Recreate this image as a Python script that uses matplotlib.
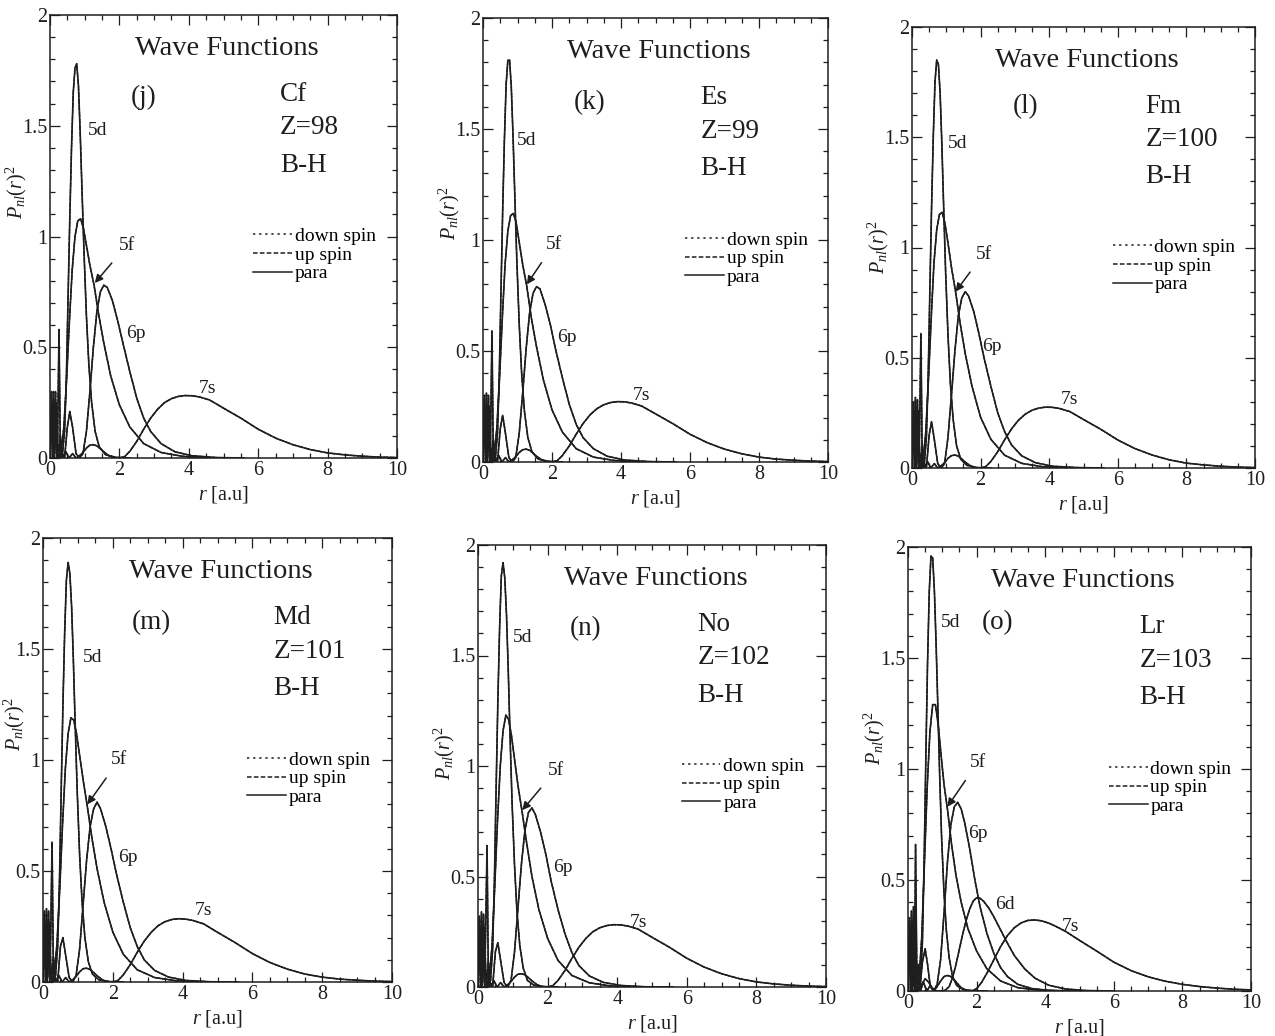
import matplotlib
matplotlib.use("Agg")
import matplotlib.pyplot as plt
from matplotlib.lines import Line2D
from matplotlib.ticker import MultipleLocator, FuncFormatter

plt.rcParams["font.family"] = ["Liberation Serif", "DejaVu Serif"]
plt.rcParams["mathtext.fontset"] = "custom"
plt.rcParams["mathtext.rm"] = "Liberation Serif"
plt.rcParams["mathtext.it"] = "Liberation Serif:italic"

INK = "#1e1e1e"

# panel captions
PANELS = ["(j)", "(k)", "(l)", "(m)", "(n)", "(o)"]
ELEMENTS = ["Cf", "Es", "Fm", "Md", "No", "Lr"]
Z_NUMBERS = [98, 99, 100, 101, 102, 103]

# radial grids (a.u.)
R_5D = [0.30, 0.36, 0.42, 0.47, 0.52, 0.57, 0.62, 0.67, 0.72, 0.77, 0.82,
        0.87, 0.92, 0.98, 1.05, 1.12, 1.20, 1.30, 1.42, 1.6, 1.9, 2.3]
R_5F = [0.25, 0.32, 0.40, 0.48, 0.56, 0.64, 0.72, 0.80, 0.88, 0.96, 1.05,
        1.15, 1.27, 1.40, 1.55, 1.75, 2.0, 2.3, 2.7, 3.2, 3.8, 4.5]
R_6P = [0.0, 0.04, 0.07, 0.1, 0.13, 0.16, 0.19, 0.22, 0.26, 0.30, 0.35,
        0.42, 0.50, 0.57, 0.65, 0.75, 0.85, 0.95, 1.05, 1.15, 1.25, 1.35,
        1.45, 1.55, 1.65, 1.8, 1.95, 2.1, 2.3, 2.5, 2.7, 2.9, 3.2, 3.6,
        4.1, 4.8, 5.6]
R_7S = [0.0, 0.06, 0.12, 0.18, 0.24, 0.30, 0.36, 0.45, 0.55, 0.65, 0.75,
        0.85, 0.95, 1.05, 1.15, 1.25, 1.35, 1.45, 1.55, 1.7, 1.85, 2.0,
        2.15, 2.3, 2.5, 2.7, 2.9, 3.1, 3.3, 3.5, 3.7, 3.9, 4.1, 4.3, 4.6,
        5.0, 5.5, 6.0, 6.5, 7.0, 7.5, 8.0, 8.5, 9.0, 9.5, 10.0]
R_6D = [0.3, 0.4, 0.5, 0.6, 0.7, 0.8, 0.9, 1.0, 1.1, 1.2, 1.3, 1.4, 1.5,
        1.6, 1.7, 1.8, 1.9, 2.0, 2.1, 2.2, 2.35, 2.5, 2.7, 2.9, 3.1, 3.4,
        3.7, 4.1, 4.6, 5.2, 6.0]

# P_nl(r)^2, one row per panel (j..o)
P_5D = [
    [0.0, 0.02, 0.12, 0.35, 0.72, 1.08, 1.40, 1.65, 1.76, 1.78, 1.68, 1.47,
     1.22, 0.93, 0.64, 0.42, 0.25, 0.12, 0.05, 0.015, 0.003, 0.0],
    [0.0, 0.02, 0.13, 0.38, 0.76, 1.13, 1.45, 1.70, 1.81, 1.81, 1.69, 1.47,
     1.21, 0.91, 0.62, 0.40, 0.23, 0.11, 0.045, 0.013, 0.003, 0.0],
    [0.0, 0.02, 0.14, 0.40, 0.80, 1.18, 1.50, 1.75, 1.85, 1.83, 1.70, 1.47,
     1.20, 0.89, 0.60, 0.38, 0.22, 0.10, 0.04, 0.012, 0.002, 0.0],
    [0.0, 0.03, 0.16, 0.44, 0.85, 1.24, 1.57, 1.81, 1.89, 1.84, 1.69, 1.45,
     1.17, 0.86, 0.57, 0.36, 0.20, 0.09, 0.035, 0.01, 0.002, 0.0],
    [0.0, 0.03, 0.17, 0.47, 0.89, 1.29, 1.62, 1.86, 1.92, 1.85, 1.68, 1.43,
     1.14, 0.83, 0.55, 0.34, 0.19, 0.085, 0.03, 0.009, 0.002, 0.0],
    [0.0, 0.04, 0.22, 0.58, 1.05, 1.48, 1.80, 1.96, 1.95, 1.80, 1.56, 1.28,
     0.99, 0.69, 0.44, 0.27, 0.15, 0.065, 0.025, 0.007, 0.001, 0.0],
]
P_5F = [
    [0.0, 0.03, 0.14, 0.36, 0.62, 0.85, 1.0, 1.07, 1.08, 1.04, 0.96, 0.87,
     0.78, 0.65, 0.52, 0.37, 0.24, 0.14, 0.065, 0.025, 0.008, 0.0],
    [0.0, 0.03, 0.15, 0.38, 0.65, 0.89, 1.04, 1.11, 1.12, 1.08, 0.99, 0.89,
     0.79, 0.65, 0.52, 0.37, 0.235, 0.135, 0.06, 0.022, 0.007, 0.0],
    [0.0, 0.03, 0.16, 0.40, 0.68, 0.93, 1.08, 1.15, 1.16, 1.11, 1.02, 0.91,
     0.80, 0.66, 0.52, 0.37, 0.23, 0.13, 0.058, 0.021, 0.006, 0.0],
    [0.0, 0.04, 0.17, 0.42, 0.71, 0.96, 1.12, 1.19, 1.18, 1.12, 1.02, 0.91,
     0.79, 0.65, 0.51, 0.36, 0.225, 0.125, 0.055, 0.02, 0.006, 0.0],
    [0.0, 0.04, 0.18, 0.45, 0.75, 1.00, 1.16, 1.23, 1.21, 1.14, 1.03, 0.91,
     0.79, 0.65, 0.50, 0.35, 0.22, 0.12, 0.052, 0.019, 0.005, 0.0],
    [0.0, 0.05, 0.24, 0.58, 0.92, 1.17, 1.29, 1.29, 1.20, 1.07, 0.93, 0.82,
     0.66, 0.52, 0.40, 0.28, 0.18, 0.10, 0.045, 0.015, 0.004, 0.0],
]
P_6P = [
    [0.0, 0.3, 0.0, 0.3, 0.02, 0.3, 0.0, 0.1, 0.58, 0.0, 0.02, 0.0, 0.14,
     0.21, 0.14, 0.02, 0.0, 0.02, 0.12, 0.3, 0.5, 0.66, 0.75, 0.78, 0.77,
     0.71, 0.62, 0.52, 0.39, 0.27, 0.18, 0.12, 0.065, 0.028, 0.01, 0.002, 0.0],
    [0.0, 0.3, 0.0, 0.31, 0.02, 0.3, 0.0, 0.12, 0.59, 0.0, 0.02, 0.0, 0.15,
     0.21, 0.13, 0.02, 0.0, 0.02, 0.13, 0.31, 0.51, 0.67, 0.76, 0.79, 0.78,
     0.71, 0.62, 0.51, 0.38, 0.26, 0.17, 0.11, 0.06, 0.026, 0.009, 0.002, 0.0],
    [0.0, 0.3, 0.0, 0.32, 0.02, 0.31, 0.0, 0.15, 0.61, 0.0, 0.02, 0.0, 0.15,
     0.21, 0.13, 0.02, 0.0, 0.02, 0.14, 0.33, 0.53, 0.69, 0.77, 0.80, 0.78,
     0.71, 0.61, 0.50, 0.37, 0.25, 0.165, 0.105, 0.055, 0.024, 0.008, 0.002, 0.0],
    [0.0, 0.32, 0.0, 0.33, 0.02, 0.32, 0.0, 0.2, 0.63, 0.0, 0.02, 0.0, 0.16,
     0.2, 0.12, 0.02, 0.0, 0.03, 0.15, 0.35, 0.55, 0.70, 0.78, 0.81, 0.78,
     0.70, 0.60, 0.49, 0.36, 0.245, 0.16, 0.10, 0.052, 0.022, 0.007, 0.001, 0.0],
    [0.0, 0.32, 0.0, 0.34, 0.02, 0.33, 0.0, 0.25, 0.64, 0.0, 0.02, 0.0, 0.16,
     0.2, 0.12, 0.02, 0.0, 0.03, 0.16, 0.36, 0.56, 0.71, 0.79, 0.81, 0.78,
     0.70, 0.60, 0.48, 0.35, 0.24, 0.155, 0.097, 0.05, 0.021, 0.007, 0.001, 0.0],
    [0.0, 0.33, 0.0, 0.36, 0.02, 0.38, 0.0, 0.66, 0.05, 0.0, 0.02, 0.13, 0.19,
     0.12, 0.02, 0.0, 0.03, 0.14, 0.35, 0.58, 0.75, 0.83, 0.85, 0.82, 0.76,
     0.64, 0.50, 0.38, 0.26, 0.17, 0.105, 0.065, 0.03, 0.011, 0.003, 0.0, 0.0],
]
P_7S = [
    [0.0, 0.2, 0.0, 0.25, 0.0, 0.1, 0.0, 0.03, 0.0, 0.02, 0.0, 0.01, 0.025,
     0.045, 0.058, 0.06, 0.055, 0.042, 0.028, 0.01, 0.001, 0.0, 0.006, 0.03,
     0.075, 0.13, 0.18, 0.22, 0.25, 0.268, 0.278, 0.282, 0.281, 0.276, 0.262,
     0.225, 0.18, 0.13, 0.09, 0.06, 0.038, 0.023, 0.014, 0.008, 0.004, 0.002],
    [0.0, 0.2, 0.0, 0.25, 0.0, 0.1, 0.0, 0.03, 0.0, 0.02, 0.0, 0.01, 0.024,
     0.043, 0.055, 0.058, 0.053, 0.04, 0.026, 0.01, 0.001, 0.0, 0.006, 0.029,
     0.072, 0.125, 0.173, 0.212, 0.24, 0.258, 0.268, 0.272, 0.271, 0.266,
     0.252, 0.217, 0.173, 0.125, 0.087, 0.058, 0.037, 0.022, 0.013, 0.008,
     0.004, 0.002],
    [0.0, 0.21, 0.0, 0.26, 0.0, 0.1, 0.0, 0.03, 0.0, 0.02, 0.0, 0.01, 0.024,
     0.044, 0.056, 0.059, 0.054, 0.041, 0.027, 0.01, 0.001, 0.0, 0.006, 0.03,
     0.074, 0.128, 0.177, 0.216, 0.244, 0.262, 0.272, 0.276, 0.275, 0.27,
     0.256, 0.22, 0.176, 0.127, 0.088, 0.059, 0.037, 0.022, 0.014, 0.008,
     0.004, 0.002],
    [0.0, 0.22, 0.0, 0.27, 0.0, 0.11, 0.0, 0.03, 0.0, 0.02, 0.0, 0.01, 0.025,
     0.046, 0.06, 0.062, 0.056, 0.043, 0.028, 0.01, 0.001, 0.0, 0.007, 0.032,
     0.078, 0.134, 0.184, 0.224, 0.254, 0.272, 0.282, 0.285, 0.283, 0.277,
     0.262, 0.224, 0.178, 0.128, 0.088, 0.058, 0.036, 0.022, 0.013, 0.008,
     0.004, 0.002],
    [0.0, 0.22, 0.0, 0.27, 0.0, 0.11, 0.0, 0.03, 0.0, 0.02, 0.0, 0.01, 0.025,
     0.045, 0.058, 0.06, 0.055, 0.042, 0.028, 0.01, 0.001, 0.0, 0.006, 0.03,
     0.075, 0.13, 0.18, 0.22, 0.25, 0.268, 0.278, 0.282, 0.281, 0.276, 0.262,
     0.225, 0.18, 0.13, 0.09, 0.06, 0.038, 0.023, 0.014, 0.008, 0.004, 0.002],
    [0.0, 0.25, 0.0, 0.3, 0.0, 0.12, 0.0, 0.04, 0.0, 0.025, 0.0, 0.02, 0.045,
     0.065, 0.07, 0.065, 0.05, 0.032, 0.015, 0.003, 0.0, 0.01, 0.04, 0.08,
     0.14, 0.2, 0.25, 0.285, 0.307, 0.318, 0.32, 0.316, 0.306, 0.292, 0.268,
     0.228, 0.18, 0.13, 0.092, 0.064, 0.044, 0.03, 0.02, 0.013, 0.008, 0.005],
]
# 6d only shows up for Lr
P_6D_LR = [0.0, 0.03, 0.055, 0.04, 0.015, 0.002, 0.0, 0.0, 0.005, 0.02, 0.06,
           0.12, 0.19, 0.26, 0.32, 0.37, 0.405, 0.42, 0.418, 0.405, 0.375,
           0.335, 0.275, 0.215, 0.16, 0.10, 0.058, 0.026, 0.009, 0.002, 0.0]

# ---- layout (pixel boxes in the scan: left, top, right, bottom) ----
W, H = 1275, 1036
BOXES = [(50, 15, 397, 458), (483, 18, 828, 462), (912, 27, 1255, 468),
         (43, 538, 392, 982), (478, 545, 826, 987), (908, 547, 1251, 991)]

# label anchors in data coords
POS_5D = [(1.1, 1.48), (0.99, 1.45), (1.05, 1.47), (1.15, 1.46), (1.0, 1.58), (0.95, 1.66)]
POS_5F = [(1.98, 0.96), (1.82, 0.98), (1.85, 0.97), (1.95, 1.0), (2.0, 0.98), (1.8, 1.03)]
TIP_5F = [(1.29, 0.79), (1.27, 0.80), (1.27, 0.80), (1.27, 0.80), (1.27, 0.80), (1.15, 0.83)]
POS_6P = [(2.2, 0.56), (2.15, 0.56), (2.05, 0.55), (2.15, 0.56), (2.15, 0.54), (1.76, 0.71)]
POS_7S = [(4.3, 0.315), (4.35, 0.30), (4.35, 0.31), (4.35, 0.32), (4.35, 0.29), (4.49, 0.29)]
POS_TAG = [(2.7, 1.63), (3.1, 1.62), (3.3, 1.64), (3.1, 1.62), (3.1, 1.62), (2.6, 1.66)]
X_ELEM = [6.63, 6.3, 6.8, 6.6, 6.3, 6.75]
YLAB_X = [-0.06, -0.06, -0.06, -0.045, -0.06, -0.06]
YLAB_Y = [0.6, 0.56, 0.5, 0.58, 0.53, 0.57]


def draw_panel(ax, i):
    curves = [(R_5D, P_5D[i]), (R_5F, P_5F[i]), (R_6P, P_6P[i]), (R_7S, P_7S[i])]
    if i == 5:
        curves.append((R_6D, P_6D_LR))
    for r, p in curves:
        ax.plot(r, p, color=INK, lw=1.2, ls="-")
        ax.plot(r, p, color=INK, lw=0.9, ls="--")
        ax.plot(r, p, color=INK, lw=0.9, ls=":")

    ax.set_xlim(0, 10)
    ax.set_ylim(0, 2)
    ax.xaxis.set_major_locator(MultipleLocator(2))
    ax.xaxis.set_minor_locator(MultipleLocator(0.5))
    ax.yaxis.set_major_locator(MultipleLocator(0.5))
    ax.yaxis.set_minor_locator(MultipleLocator(0.1))
    ax.yaxis.set_major_formatter(FuncFormatter(lambda v, _: f"{v:g}"))
    ax.tick_params(which="both", direction="in", top=True, right=True,
                   colors=INK, labelsize=14.5, width=0.9)
    ax.tick_params(which="major", length=7, pad=2)
    ax.tick_params(which="minor", length=3.5)
    for s in ax.spines.values():
        s.set_linewidth(1.1)
        s.set_color(INK)

    ax.set_xlabel(r"$r$ [a.u]", fontsize=14.5, color=INK, labelpad=3)
    ax.set_ylabel(r"$P_{nl}(r)^2$", fontsize=14.5, color=INK)
    ax.yaxis.set_label_coords(YLAB_X[i], YLAB_Y[i])

    txt = dict(color=INK)
    ax.text(5.1, 1.85, "Wave Functions", fontsize=20.5, ha="center", va="center", **txt)
    ax.text(*POS_TAG[i], PANELS[i], fontsize=19.5, ha="center", va="center", **txt)
    ax.text(X_ELEM[i], 1.64, ELEMENTS[i], fontsize=19.5, ha="left", va="center", **txt)
    ax.text(X_ELEM[i], 1.49, f"Z={Z_NUMBERS[i]}", fontsize=19.5, ha="left", va="center", **txt)
    ax.text(X_ELEM[i], 1.32, "B-H", fontsize=19.5, ha="left", va="center", **txt)

    ax.text(*POS_5D[i], "5d", fontsize=14, ha="left", va="center", **txt)
    ax.text(*POS_6P[i], "6p", fontsize=14, ha="left", va="center", **txt)
    ax.text(*POS_7S[i], "7s", fontsize=14, ha="left", va="center", **txt)
    ax.annotate("5f", xy=TIP_5F[i], xytext=POS_5F[i], fontsize=14,
                ha="left", va="center", color=INK,
                arrowprops=dict(arrowstyle="-|>", color=INK, lw=1.1,
                                mutation_scale=12, shrinkA=6, shrinkB=0))
    if i == 5:
        ax.text(2.54, 0.39, "6d", fontsize=14, ha="left", va="center", **txt)

    handles = [Line2D([], [], color=INK, lw=1.1, ls=(0, (1.5, 2.5))),
               Line2D([], [], color=INK, lw=1.1, ls=(0, (3, 1.5))),
               Line2D([], [], color=INK, lw=1.1, ls="-")]
    ax.legend(handles, ["down spin", "up spin", "para"], loc="upper left",
              bbox_to_anchor=(0.585, 0.52), frameon=False, fontsize=14,
              handlelength=2.0, handletextpad=0.15, labelspacing=0.05,
              borderpad=0, borderaxespad=0)


fig = plt.figure(figsize=(W / 100, H / 100), dpi=100)
for i, (l, t, r, b) in enumerate(BOXES):
    ax = fig.add_axes([l / W, 1 - b / H, (r - l) / W, (b - t) / H])
    draw_panel(ax, i)

fig.savefig("out.png", dpi=100, facecolor="white")
